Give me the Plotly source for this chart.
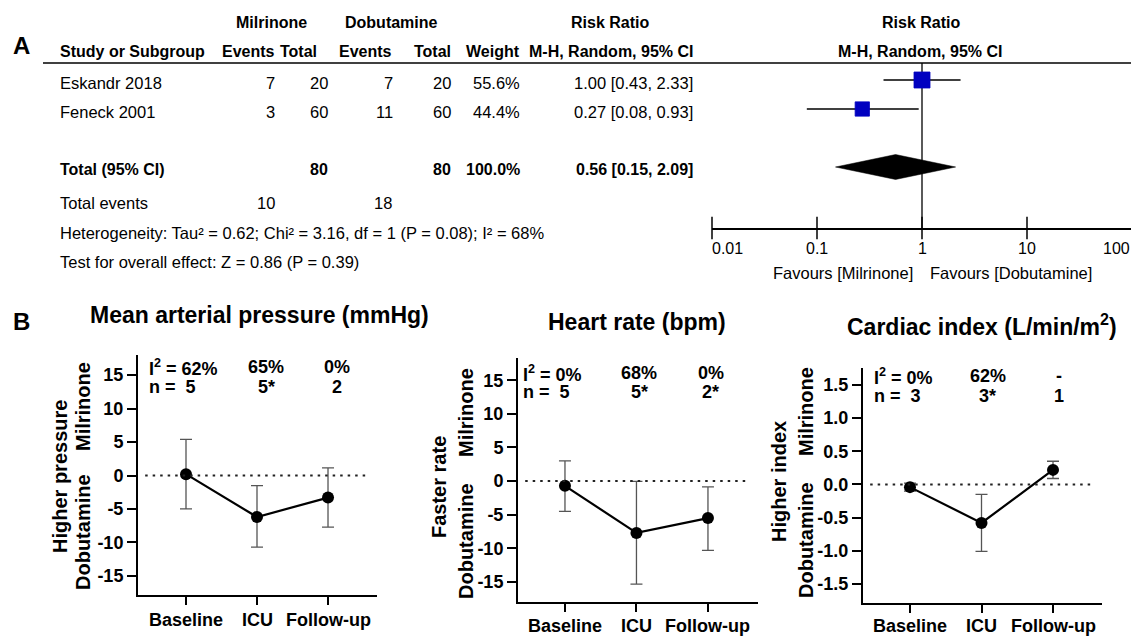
import math
import plotly.graph_objects as go

# The page body has an 8px margin, so the figure is drawn 8px right/down.
OFF = 8
W, H = 1139 - OFF, 638 - OFF


def fx(px):
    return (px - OFF) / W


def fy(py):
    return 1 - (py - OFF) / H


# ---------------- Panel A data ----------------
studies = ["Eskandr 2018", "Feneck 2001"]
mil_events = [7, 3]
mil_total = [20, 60]
dob_events = [7, 11]
dob_total = [20, 60]
weights = [55.6, 44.4]
rr = [1.00, 0.27]
rr_lo = [0.43, 0.08]
rr_hi = [2.33, 0.93]
pooled_rr = [0.56, 0.15, 2.09]
total_mil_n = 80
total_dob_n = 80
total_weight = 100.0
total_mil_events = 10
total_dob_events = 18
heterogeneity = "Heterogeneity: Tau² = 0.62; Chi² = 3.16, df = 1 (P = 0.08); I² = 68%"
overall_effect = "Test for overall effect: Z = 0.86 (P = 0.39)"
rr_ticks = [0.01, 0.1, 1, 10, 100]
rr_ticklabels = ["0.01", "0.1", "1", "10", "100"]
favours = ["Favours [Milrinone]", "Favours [Dobutamine]"]

# ---------------- Panel B data ----------------
timepoints = ["Baseline", "ICU", "Follow-up"]
map_md = [0.2, -6.2, -3.3]
map_lo = [-5.0, -10.7, -7.7]
map_hi = [5.4, -1.5, 1.15]
hr_md = [-0.7, -7.7, -5.5]
hr_lo = [-4.5, -15.3, -10.3]
hr_hi = [3.0, -0.05, -0.85]
ci_md = [-0.04, -0.58, 0.22]
ci_lo = [-0.10, -1.01, 0.09]
ci_hi = [0.02, -0.15, 0.35]
map_i2 = ["62%", "65%", "0%"]
map_n = ["5", "5*", "2"]
hr_i2 = ["0%", "68%", "0%"]
hr_n = ["5", "5*", "2*"]
ci_i2 = ["0%", "62%", "-"]
ci_n = ["3", "3*", "1"]
map_ticks = [-15, -10, -5, 0, 5, 10, 15]
hr_ticks = [-15, -10, -5, 0, 5, 10, 15]
ci_ticks = [-1.5, -1.0, -0.5, 0.0, 0.5, 1.0, 1.5]

# ---------------- styles ----------------
TFAM = "Liberation Sans, Arial, Helvetica, sans-serif"
ARIAL = "Liberation Sans, Arial, Helvetica, sans-serif"
TSIZE = 16.5
BSIZE = 16
BLUE = "#0000C0"

fig = go.Figure()
annotations = []
shapes = []


def add_text(text, xpx, ypx, anchor="left", bold=False, size=None, family=TFAM, angle=0):
    if size is None:
        size = BSIZE if bold else TSIZE
    annotations.append(dict(
        text=text, x=fx(xpx), y=fy(ypx), xref="paper", yref="paper",
        xanchor=anchor, yanchor="middle", showarrow=False, textangle=angle,
        font=dict(family=family, size=size, color="black",
                  weight="bold" if bold else "normal")))


# ---------------- Panel A: table ----------------
ROW0, PITCH = 80, 29          # pixel row of first study, row pitch
TXT = 3                       # text offset below the graphic row


def row_px(r):
    return ROW0 + PITCH * r


def px_row(py):
    return (py - ROW0) / PITCH


add_text("A", 21, 45, "center", True, 24, ARIAL)
add_text("Milrinone", 271, 22, "center", True)
add_text("Dobutamine", 391, 22, "center", True)
add_text("Risk Ratio", 610, 22, "center", True)
add_text("Risk Ratio", 921, 22, "center", True)
add_text("Study or Subgroup", 58, 52, "left", True)
add_text("Events", 277, 52, "right", True)
add_text("Total", 319, 52, "right", True)
add_text("Events", 394, 52, "right", True)
add_text("Total", 453, 52, "right", True)
add_text("Weight", 522, 52, "right", True)
add_text("M-H, Random, 95% CI", 695, 52, "right", True)
add_text("M-H, Random, 95% CI", 920, 52, "center", True)

shapes.append(dict(type="line", xref="paper", yref="paper", x0=fx(43), x1=1,
                   y0=fy(63), y1=fy(63), line=dict(color="black", width=1.6)))

study_rows = list(range(len(studies)))
for i, s in enumerate(studies):
    y = row_px(study_rows[i]) + TXT
    add_text(s, 58, y)
    add_text(str(mil_events[i]), 277, y, "right")
    add_text(str(mil_total[i]), 330, y, "right")
    add_text(str(dob_events[i]), 395, y, "right")
    add_text(str(dob_total[i]), 453, y, "right")
    add_text(f"{weights[i]:.1f}%", 522, y, "right")
    add_text(f"{rr[i]:.2f} [{rr_lo[i]:.2f}, {rr_hi[i]:.2f}]", 695, y, "right")

total_row = len(studies) + 1
yt = row_px(total_row) + TXT
add_text("Total (95% CI)", 58, yt, "left", True)
add_text(str(total_mil_n), 330, yt, "right", True)
add_text(str(total_dob_n), 453, yt, "right", True)
add_text(f"{total_weight:.1f}%", 522, yt, "right", True)
add_text(f"{pooled_rr[0]:.2f} [{pooled_rr[1]:.2f}, {pooled_rr[2]:.2f}]", 695, yt, "right", True)
add_text("Total events", 58, 203)
add_text(str(total_mil_events), 277, 203, "right")
add_text(str(total_dob_events), 394, 203, "right")
add_text(heterogeneity, 58, 233)
add_text(overall_effect, 58, 262)

# ---------------- Panel A: forest plot ----------------
AX_TOP, AX_BOT = 63, 228
for i in range(len(studies)):
    fig.add_trace(go.Scatter(x=[rr_lo[i], rr_hi[i]], y=[study_rows[i]] * 2,
                             mode="lines", line=dict(color="black", width=1.5),
                             xaxis="x", yaxis="y", hoverinfo="skip"))
fig.add_trace(go.Scatter(x=[1, 1], y=[px_row(AX_TOP), px_row(AX_BOT)], mode="lines",
                         line=dict(color="black", width=1.3), xaxis="x", yaxis="y",
                         cliponaxis=False))
fig.add_trace(go.Scatter(
    x=rr, y=study_rows, mode="markers", xaxis="x", yaxis="y", opacity=1,
    marker=dict(symbol="square", color=BLUE, opacity=1,
                size=[16 * math.sqrt(w / max(weights)) for w in weights],
                line=dict(width=0.8, color=BLUE))))
hh = 0.43
fig.add_trace(go.Scatter(
    x=[pooled_rr[1], pooled_rr[0], pooled_rr[2], pooled_rr[0], pooled_rr[1]],
    y=[total_row, total_row - hh, total_row, total_row + hh, total_row],
    mode="lines", fill="toself", fillcolor="black", line=dict(color="black", width=0.5),
    xaxis="x", yaxis="y"))
fig.add_trace(go.Scatter(
    x=rr_ticks, y=[px_row(AX_BOT)] * len(rr_ticks), mode="markers", xaxis="x", yaxis="y",
    cliponaxis=False,
    marker=dict(symbol="line-ns", size=16, line=dict(color="black", width=1.5))))

for j, (v, lab) in enumerate(zip(rr_ticks, rr_ticklabels)):
    anchor = "left" if j == 0 else ("right" if j == len(rr_ticks) - 1 else "center")
    annotations.append(dict(text=lab, x=math.log10(v), xref="x", y=fy(248), yref="paper",
                            xanchor=anchor, yanchor="middle", showarrow=False,
                            xshift=-2 if j == 0 else 0,
                            font=dict(family=TFAM, size=16, color="black")))
annotations.append(dict(text=favours[0], x=0, xref="x", y=fy(273), yref="paper",
                        xanchor="right", yanchor="middle", showarrow=False, xshift=-7,
                        font=dict(family=TFAM, size=16.5, color="black")))
annotations.append(dict(text=favours[1], x=0, xref="x", y=fy(273), yref="paper",
                        xanchor="left", yanchor="middle", showarrow=False, xshift=6,
                        font=dict(family=TFAM, size=16.5, color="black")))

layout_axes = dict(
    xaxis=dict(type="log", range=[-2, 2], domain=[fx(712), fx(1132)], anchor="y",
               showline=True, linecolor="black", linewidth=1.5, ticks="",
               showticklabels=False, showgrid=False, zeroline=False),
    yaxis=dict(domain=[fy(AX_BOT), fy(AX_TOP)], range=[px_row(AX_BOT), px_row(AX_TOP)],
               visible=False, showgrid=False, zeroline=False),
)

# ---------------- Panel B ----------------
add_text("B", 21, 321, "center", True, 24, ARIAL)

panels = [
    dict(md=map_md, lo=map_lo, hi=map_hi, i2=map_i2, n=map_n, ticks=map_ticks, dec=0,
         title="Mean arterial pressure (mmHg)", tpos=(259, 315),
         xdom=(138, 377), ydom=(595, 355), yr=[-17.85, 18.0], xr=[-0.676, 2.69],
         outer="Higher pressure", outer_x=60, outer_y=477, inner_x=83,
         mil_y=407, dob_y=532, rows=(367, 387), first_x=0.038, shift=9, cat_y=620),
    dict(md=hr_md, lo=hr_lo, hi=hr_hi, i2=hr_i2, n=hr_n, ticks=hr_ticks, dec=0,
         title="Heart rate (bpm)", tpos=(637, 322),
         xdom=(518, 758), ydom=(602, 358), yr=[-17.97, 18.3], xr=[-0.657, 2.70],
         outer="Faster rate", outer_x=439, outer_y=487, inner_x=466,
         mil_y=413, dob_y=541, rows=(373, 392), first_x=0.013, shift=3, cat_y=626),
    dict(md=ci_md, lo=ci_lo, hi=ci_hi, i2=ci_i2, n=ci_n, ticks=ci_ticks, dec=1,
         title="Cardiac index (L/min/m<sup>2</sup>)", tpos=(982, 325),
         xdom=(863, 1102), ydom=(603, 368), yr=[-1.787, 1.756], xr=[-0.657, 2.685],
         outer="Higher index", outer_x=779, outer_y=482, inner_x=806,
         mil_y=412, dob_y=540, rows=(376, 396), first_x=0.038, shift=6, cat_y=626),
]

BFONT = dict(family=ARIAL, color="black", weight="bold")
xs = list(range(len(timepoints)))
for k, p in enumerate(panels):
    ax = k + 2
    xa, ya = f"x{ax}", f"y{ax}"
    fig.add_trace(go.Scatter(
        x=xs, y=p["md"], mode="lines+markers", xaxis=xa, yaxis=ya,
        line=dict(color="black", width=2.2),
        marker=dict(color="black", size=12),
        error_y=dict(type="data", symmetric=False,
                     array=[h - m for h, m in zip(p["hi"], p["md"])],
                     arrayminus=[m - l for m, l in zip(p["md"], p["lo"])],
                     color="#555555", thickness=1.3, width=6)))
    layout_axes[f"xaxis{ax}"] = dict(
        domain=[fx(p["xdom"][0]), fx(p["xdom"][1])], range=p["xr"], anchor=ya,
        tickvals=xs, showticklabels=False, showline=True, linecolor="black", linewidth=2,
        ticks="outside", ticklen=8, tickwidth=2, tickcolor="black",
        showgrid=False, zeroline=False)
    layout_axes[f"yaxis{ax}"] = dict(
        domain=[fy(p["ydom"][0]), fy(p["ydom"][1])], range=p["yr"], anchor=xa,
        tickvals=p["ticks"], ticktext=[f"{v:.{p['dec']}f}" for v in p["ticks"]],
        showline=True, linecolor="black", linewidth=2,
        ticks="outside", ticklen=9, tickwidth=2, tickcolor="black",
        tickfont=dict(size=18, **BFONT), showgrid=False, zeroline=False)
    shapes.append(dict(type="line", xref=f"{xa} domain", yref=ya, x0=0.03, x1=0.965,
                       y0=0, y1=0, line=dict(color="#222222", width=2, dash="2.5px,5px")))
    add_text(p["title"], p["tpos"][0], p["tpos"][1], "center", True, 23, ARIAL)
    # category labels
    for j, lab in enumerate(timepoints):
        annotations.append(dict(text=lab, x=xs[j], xref=xa, y=fy(p["cat_y"]), yref="paper",
                                xanchor="center", yanchor="middle", showarrow=False,
                                font=dict(size=18, **BFONT)))
    # y-axis titles
    for txt, xx, yy in [(p["outer"], p["outer_x"], p["outer_y"]),
                        ("Milrinone", p["inner_x"], p["mil_y"]),
                        ("Dobutamine", p["inner_x"], p["dob_y"])]:
        add_text(txt, xx, yy, "center", True, 20, ARIAL, angle=-90)
    # I^2 and n rows
    r1, r2 = p["rows"]
    annotations.append(dict(text=f"I<sup>2</sup> = {p['i2'][0]}", x=p["first_x"],
                            xref=f"{xa} domain", y=fy(r1), yref="paper", xanchor="left",
                            yanchor="middle", showarrow=False, font=dict(size=18, **BFONT)))
    annotations.append(dict(text=f"n = \u00a0{p['n'][0]}", x=p["first_x"],
                            xref=f"{xa} domain", y=fy(r2), yref="paper", xanchor="left",
                            yanchor="middle", showarrow=False, font=dict(size=18, **BFONT)))
    for j in range(1, len(timepoints)):
        for txt, rr_ in [(p["i2"][j], r1), (p["n"][j], r2)]:
            annotations.append(dict(text=txt, x=xs[j], xref=xa, y=fy(rr_), yref="paper",
                                    xanchor="center", yanchor="middle", showarrow=False,
                                    xshift=p["shift"], font=dict(size=18, **BFONT)))

fig.update_layout(
    width=W, height=H, margin=dict(l=0, r=0, t=0, b=0),
    paper_bgcolor="white", plot_bgcolor="white", showlegend=False,
    annotations=annotations, shapes=shapes, **layout_axes)

fig.write_html("out.html")
